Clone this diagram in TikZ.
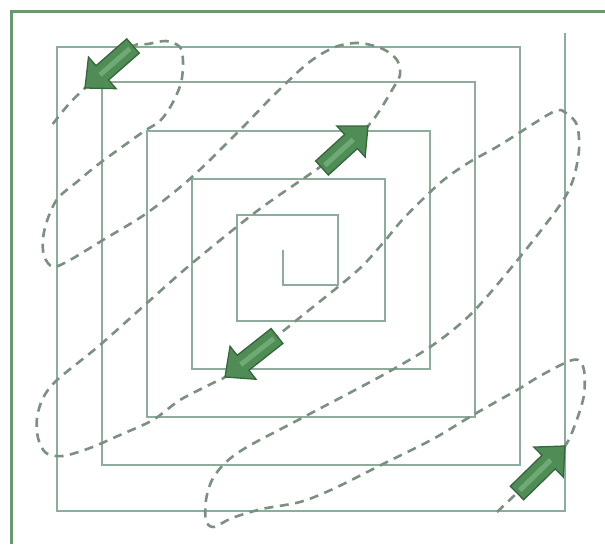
\documentclass[tikz,border=0pt]{standalone}
\usetikzlibrary{calc}
\definecolor{framegreen}{RGB}{104,152,108}
\definecolor{spiralcol}{RGB}{140,172,156}
\definecolor{dashcol}{RGB}{124,144,130}
\definecolor{arrfillc}{RGB}{80,140,86}
\definecolor{arrlinec}{RGB}{54,102,60}
\definecolor{arrlightc}{RGB}{122,180,126}
\tikzset{
  framestyle/.style={draw=framegreen, line width=3.5pt},
  spiralstyle/.style={draw=spiralcol, line width=2.2pt, line join=miter},
  dashpath/.style={draw=dashcol, line width=2.6pt, dash pattern=on 9pt off 6.5pt},
  arrbody/.style={fill=arrfillc, draw=arrlinec, line width=1.3pt, line join=miter},
  arrstripe/.style={draw=arrlightc, line width=5pt, opacity=0.75}
}
\newcommand{\BlkArrow}[3]{%
  \coordinate (#3n) at ($(#2)!23pt!(#1)$);
  \filldraw[arrbody] ($(#1)!9.5pt!90:(#2)$) -- ($(#3n)!9.5pt!90:(#2)$) -- ($(#3n)!21pt!90:(#2)$) -- (#2)
     -- ($(#3n)!21pt!-90:(#2)$) -- ($(#3n)!9.5pt!-90:(#2)$) -- ($(#1)!9.5pt!-90:(#2)$) -- cycle;
  \draw[arrstripe] ($(#1)!4pt!(#2)$) -- ($(#3n)!3pt!(#2)$);
}
\begin{document}
\begin{tikzpicture}[x=1pt,y=-1pt]
\useasboundingbox (0,0) rectangle (605,544);
\fill[white] (0,0) rectangle (605,544);
% frame
\draw[framestyle] (11.5,544) -- (11.5,11.5) -- (605,11.5);
% spiral
\draw[spiralstyle] (283,250) -- (283,285) -- (338,285) -- (338,215) -- (237,215) -- (237,321)
  -- (385,321) -- (385,179) -- (192,179) -- (192,369) -- (430,369) -- (430,131) -- (147,131)
  -- (147,417) -- (475,417) -- (475,82) -- (102,82) -- (102,465) -- (520,465) -- (520,47)
  -- (57,47) -- (57,511) -- (565,511) -- (565,33);
% dashed route
\draw[dashpath] plot[smooth, tension=0.5] coordinates {
 (497,512) (517,493) (541,470) (565,446) (576,422) (584,395) (584,370) (578,360) (567,362)
 (540,376) (517,390) (473,415) (433,439) (383,464) (333,489) (300,502) (262,509) (232,518)
 (214,527) (206,521) (206,500) (212,480) (225,463) (247,447) (300,419)
 (383,375) (433,345) (473,312) (520,257) (560,205) (573,180) (579,150)
 (577,125) (566,113) (553,112) (500,145) (468,163) (440,183) (404,218)
 (383,243) (357,271) (303,315) (277,336) (251,356) (225,377) (213,383) (180,400)
 (153,420) (120,435) (90,448) (63,456) (46,453) (38,438) (37,418) (43,398) (57,380)
 (100,345) (147,303) (190,265) (257,211) (320,167) (344,147) (368,126) (380,110) (392,90)
 (400,75) (397,60) (383,49) (360,43) (338,46) (318,56) (300,70) (270,99) (240,130) (192,177)
 (147,213) (103,240) (70,260) (53,267) (44,256) (43,238) (48,218) (58,198) (78,181) (100,163)
 (143,132) (160,121) (172,104) (181,83) (183,62) (180,47) (166,41) (148,44) (133,46)
 (109,67) (85,88) (68,105) (52,125)};
% arrows
\coordinate (t1) at (133,46);  \coordinate (h1) at (85,88);
\coordinate (t2) at (322,168); \coordinate (h2) at (368,126);
\coordinate (t3) at (277,336); \coordinate (h3) at (225,377);
\coordinate (t4) at (517,493); \coordinate (h4) at (565,446);
\BlkArrow{t1}{h1}{a1}
\BlkArrow{t2}{h2}{a2}
\BlkArrow{t3}{h3}{a3}
\BlkArrow{t4}{h4}{a4}
\end{tikzpicture}
\end{document}
